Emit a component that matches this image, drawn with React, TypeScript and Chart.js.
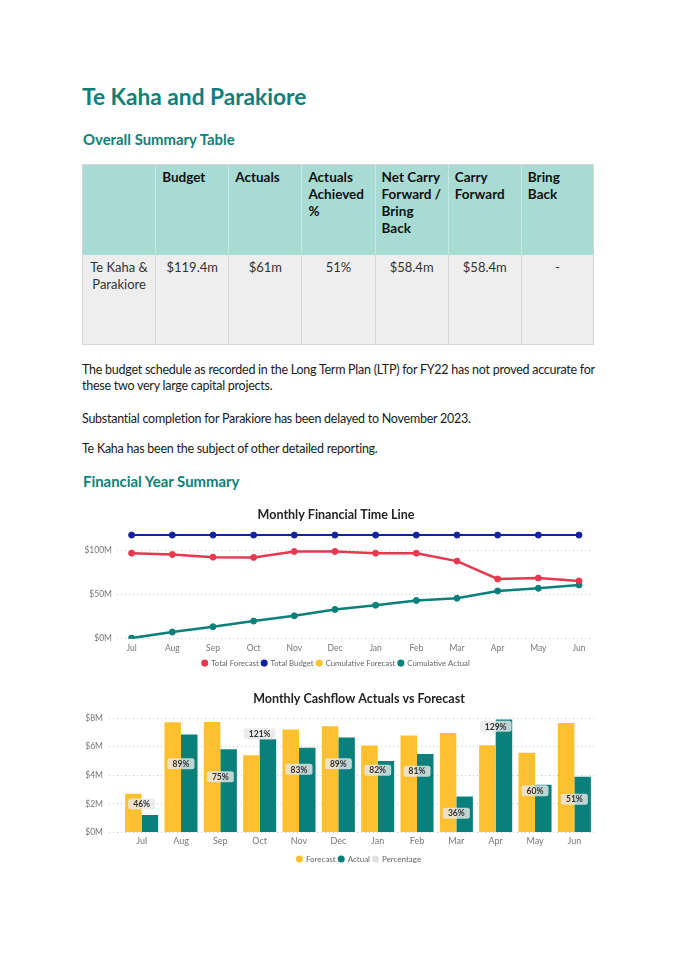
import React, { useEffect, useRef } from 'react';
import { Chart, registerables } from 'chart.js';

Chart.register(...registerables);

// ---------- data ----------
const months = ['Jul', 'Aug', 'Sep', 'Oct', 'Nov', 'Dec', 'Jan', 'Feb', 'Mar', 'Apr', 'May', 'Jun'];

const totalForecast = [96.6, 95.1, 92.1, 91.8, 98.5, 98.5, 96.6, 96.6, 87.6, 67.4, 68.5, 65.2];
const totalBudget = [117, 117, 117, 117, 117, 117, 117, 117, 117, 117, 117, 117];
const cumulativeForecast: (number | null)[] = [null, null, null, null, null, null, null, null, null, null, null, null];
const cumulativeActual = [0.7, 7.5, 13.5, 19.9, 25.8, 33.0, 37.8, 43.1, 45.7, 53.9, 56.9, 60.7];
const lineYTicks = [0, 50, 100];

const cashForecast = [2.7, 7.7, 7.72, 5.39, 7.2, 7.43, 6.07, 6.78, 6.96, 6.09, 5.58, 7.65];
const cashActual = [1.22, 6.85, 5.81, 6.52, 5.93, 6.64, 4.99, 5.48, 2.52, 7.9, 3.34, 3.9];
const percentage = [46, 89, 75, 121, 83, 89, 82, 81, 36, 129, 60, 51];
const barYTicks = [0, 2, 4, 6, 8];

const tableHeaders: string[][] = [
  [],
  ['Budget'],
  ['Actuals'],
  ['Actuals', 'Achieved', '%'],
  ['Net Carry', 'Forward /', 'Bring', 'Back'],
  ['Carry', 'Forward'],
  ['Bring', 'Back'],
];
const tableValues: string[][] = [
  ['Te Kaha &', 'Parakiore'],
  ['$119.4m'],
  ['$61m'],
  ['51%'],
  ['$58.4m'],
  ['$58.4m'],
  ['-'],
];

const paragraphs = [
  ['The budget schedule as recorded in the Long Term Plan (LTP) for FY22 has not proved accurate for', 'these two very large capital projects.'],
  ['Substantial completion for Parakiore has been delayed to November 2023.'],
  ['Te Kaha has been the subject of other detailed reporting.'],
];

// ---------- styles ----------
const FONT = 'Lato, "Open Sans", sans-serif';
const HEAD = '#0f7f79';
const RED = '#e8384f';
const BLUE = '#12239e';
const YELLOW = '#fdc02f';
const TEAL = '#0a807a';
const PCT = '#e0e0e0';
const TICK = '#777777';
const GRID = '#c8c8c8';

const legendLabels = (fontSize: number) => ({
  usePointStyle: true,
  pointStyle: 'circle' as const,
  boxWidth: 5,
  boxHeight: 5,
  padding: 3,
  color: '#666666',
  font: { family: FONT, size: fontSize },
  generateLabels: (chart: any) =>
    Chart.defaults.plugins.legend.labels.generateLabels(chart).map((l: any) => ({
      ...l,
      lineWidth: 0,
      fillStyle: chart.data.datasets[l.datasetIndex].backgroundColor,
    })),
});

function LineChart() {
  const ref = useRef<HTMLCanvasElement>(null);
  useEffect(() => {
    const mk = (label: string, data: (number | null)[], color: string, width: number) => ({
      label,
      data: data.map((v, i) => ({ x: i, y: v })),
      borderColor: color,
      backgroundColor: color,
      pointBackgroundColor: color,
      pointBorderColor: color,
      pointBorderWidth: 1,
      pointRadius: 3,
      borderWidth: width,
      tension: 0,
    });
    const chart = new Chart(ref.current!, {
      type: 'line',
      data: {
        datasets: [
          mk('Total Forecast', totalForecast, RED, 2.5),
          mk('Total Budget', totalBudget, BLUE, 2),
          mk('Cumulative Forecast', cumulativeForecast, YELLOW, 2.5),
          mk('Cumulative Actual', cumulativeActual, TEAL, 2.5),
        ] as any,
      },
      options: {
        responsive: false,
        animation: false,
        plugins: {
          title: {
            display: true,
            text: 'Monthly Financial Time Line',
            color: '#252423',
            font: { family: FONT, size: 12.5, weight: 'bold' },
            padding: { top: 7, bottom: 6 },
          },
          legend: { position: 'bottom', labels: legendLabels(7.8) as any },
          tooltip: { enabled: false },
        },
        layout: { padding: { right: 8 } },
        scales: {
          x: {
            type: 'linear',
            min: -0.36,
            max: 11.32,
            offset: false,
            grid: { display: false, drawTicks: false },
            border: { display: false },
            afterBuildTicks: (s: any) => {
              s.ticks = months.map((_, i) => ({ value: i }));
            },
            afterFit: (s: any) => {
              s.height = 17.5;
            },
            ticks: {
              autoSkip: false,
              maxRotation: 0,
              padding: 4,
              color: TICK,
              font: { family: FONT, size: 8.5 },
              callback: (_v: any, i: number) => months[i],
            },
          },
          y: {
            min: 0,
            max: 125,
            afterBuildTicks: (s: any) => {
              s.ticks = lineYTicks.map((v) => ({ value: v }));
            },
            afterFit: (s: any) => {
              s.width = 37;
            },
            grid: { color: GRID, drawTicks: false, lineWidth: 1 },
            border: { display: false, dash: [1, 3] },
            ticks: {
              padding: 5,
              color: TICK,
              font: { family: FONT, size: 8.5 },
              callback: (v: any) => `$${v}M`,
            },
          },
        },
      } as any,
    });
    return () => chart.destroy();
  }, []);
  return (
    <canvas
      ref={ref}
      width={520}
      height={177}
      style={{ position: 'absolute', left: 80, top: 500, width: 520, height: 177 }}
    />
  );
}

const pctLabelPlugin = {
  id: 'pctLabels',
  afterDatasetsDraw(chart: any) {
    const meta = chart.getDatasetMeta(2);
    const ctx = chart.ctx as CanvasRenderingContext2D;
    ctx.save();
    ctx.font = `bold 8.5px ${FONT}`;
    ctx.textAlign = 'center';
    ctx.textBaseline = 'middle';
    meta.data.forEach((pt: any, i: number) => {
      const text = `${percentage[i]}%`;
      const w = Math.max(27, ctx.measureText(text).width + 10);
      const h = 11;
      const x = pt.x - w / 2;
      const y = pt.y - h / 2;
      ctx.fillStyle = 'rgba(232,232,232,0.82)';
      ctx.beginPath();
      (ctx as any).roundRect(x, y, w, h, 2.5);
      ctx.fill();
      ctx.fillStyle = '#333333';
      ctx.fillText(text, pt.x, pt.y + 0.5);
    });
    ctx.restore();
  },
};

function BarChart() {
  const ref = useRef<HTMLCanvasElement>(null);
  useEffect(() => {
    const chart = new Chart(ref.current!, {
      type: 'bar',
      data: {
        datasets: [
          {
            label: 'Forecast',
            data: cashForecast.map((v, i) => ({ x: i, y: v })),
            backgroundColor: YELLOW,
            categoryPercentage: 0.84,
            barPercentage: 1,
          },
          {
            label: 'Actual',
            data: cashActual.map((v, i) => ({ x: i, y: v })),
            backgroundColor: TEAL,
            categoryPercentage: 0.84,
            barPercentage: 1,
          },
          {
            type: 'line',
            label: 'Percentage',
            data: percentage.map((v, i) => ({ x: i, y: v })),
            yAxisID: 'y2',
            showLine: false,
            pointRadius: 0,
            backgroundColor: PCT,
            borderColor: PCT,
          },
        ] as any,
      },
      plugins: [pctLabelPlugin],
      options: {
        responsive: false,
        animation: false,
        plugins: {
          title: {
            display: true,
            text: 'Monthly Cashflow Actuals vs Forecast',
            color: '#252423',
            font: { family: FONT, size: 12.5, weight: 'bold' },
            padding: { top: 6.5, bottom: 11.5 },
          },
          legend: { position: 'bottom', labels: legendLabels(8) as any },
          tooltip: { enabled: false },
        },
        scales: {
          x: {
            type: 'linear',
            min: -0.83,
            max: 11.55,
            offset: false,
            grid: { display: false, offset: false, drawTicks: false },
            border: { display: false },
            afterBuildTicks: (s: any) => {
              s.ticks = months.map((_, i) => ({ value: i }));
            },
            afterFit: (s: any) => {
              s.height = 19.5;
            },
            ticks: {
              autoSkip: false,
              maxRotation: 0,
              padding: 3,
              color: TICK,
              font: { family: FONT, size: 9 },
              callback: (_v: any, i: number) => months[i],
            },
          },
          y: {
            min: 0,
            max: 8,
            afterBuildTicks: (s: any) => {
              s.ticks = barYTicks.map((v) => ({ value: v }));
            },
            afterFit: (s: any) => {
              s.width = 39;
            },
            grid: { color: GRID, drawTicks: false, lineWidth: 1 },
            border: { display: false, dash: [1, 3] },
            ticks: {
              padding: 6,
              color: TICK,
              font: { family: FONT, size: 8.5 },
              callback: (v: any) => `$${v}M`,
            },
          },
          y2: {
            display: true,
            position: 'right',
            min: 15.4,
            max: 137.9,
            grid: { display: false, drawTicks: false },
            border: { display: false },
            ticks: { display: false },
            afterFit: (s: any) => {
              s.width = 52;
            },
          },
        },
      } as any,
    });
    return () => chart.destroy();
  }, []);
  return (
    <canvas
      ref={ref}
      width={578}
      height={188}
      style={{ position: 'absolute', left: 70, top: 685, width: 578, height: 188 }}
    />
  );
}

const TABLE_LEFT = 82;
const TABLE_TOP = 164;
const COL_W = 512 / 7;

function SummaryTable() {
  return (
    <div style={{ position: 'absolute', left: TABLE_LEFT, top: TABLE_TOP, width: 512, fontFamily: FONT }}>
      <div style={{ display: 'flex', height: 91 }}>
        {tableHeaders.map((lines, i) => (
          <div
            key={i}
            style={{
              boxSizing: 'border-box',
              width: COL_W,
              height: 91,
              background: '#a7dbd3',
              borderLeft: i === 0 ? '1px solid #d6d6d6' : '1px solid #c4e8e2',
              borderRight: i === 6 ? '1px solid #d6d6d6' : 'none',
              borderTop: '1px solid #d6d6d6',
              padding: '4px 6px',
              fontWeight: 700,
              fontSize: 13.5,
              lineHeight: '17px',
              color: '#111111',
              whiteSpace: 'nowrap',
            }}
          >
            {lines.map((l, j) => (
              <div key={j}>{l}</div>
            ))}
          </div>
        ))}
      </div>
      <div style={{ display: 'flex', height: 90 }}>
        {tableValues.map((lines, i) => (
          <div
            key={i}
            style={{
              boxSizing: 'border-box',
              width: COL_W,
              height: 90,
              background: '#eeeeee',
              borderLeft: '1px solid #d6d6d6',
              borderRight: i === 6 ? '1px solid #d6d6d6' : 'none',
              borderBottom: '1px solid #d6d6d6',
              padding: '4px 2px',
              fontSize: 13,
              lineHeight: '17px',
              color: '#333333',
              textAlign: 'center',
              whiteSpace: 'nowrap',
            }}
          >
            {lines.map((l, j) => (
              <div key={j}>{l}</div>
            ))}
          </div>
        ))}
      </div>
    </div>
  );
}

export default function App() {
  const paraTops = [362, 411, 441];
  return (
    <div style={{ position: 'absolute', left: 0, top: 0, width: 675, height: 955, background: '#ffffff', fontFamily: FONT }}>
      <div style={{ position: 'absolute', left: 82, top: 83, fontSize: 22.7, fontWeight: 700, lineHeight: '28px', color: HEAD, whiteSpace: 'nowrap' }}>
        Te Kaha and Parakiore
      </div>
      <div style={{ position: 'absolute', left: 83, top: 130, fontSize: 14.9, fontWeight: 700, lineHeight: '18px', color: HEAD, whiteSpace: 'nowrap' }}>
        Overall Summary Table
      </div>
      <SummaryTable />
      {paragraphs.map((lines, i) => (
        <div key={i} style={{ position: 'absolute', left: 82, top: paraTops[i], fontSize: 12.5, letterSpacing: '-0.25px', lineHeight: '16px', color: '#1a1a1a', whiteSpace: 'nowrap' }}>
          {lines.map((l, j) => (
            <div key={j}>{l}</div>
          ))}
        </div>
      ))}
      <div style={{ position: 'absolute', left: 83, top: 472, fontSize: 14.9, fontWeight: 700, lineHeight: '18px', color: HEAD, whiteSpace: 'nowrap' }}>
        Financial Year Summary
      </div>
      <LineChart />
      <BarChart />
    </div>
  );
}
